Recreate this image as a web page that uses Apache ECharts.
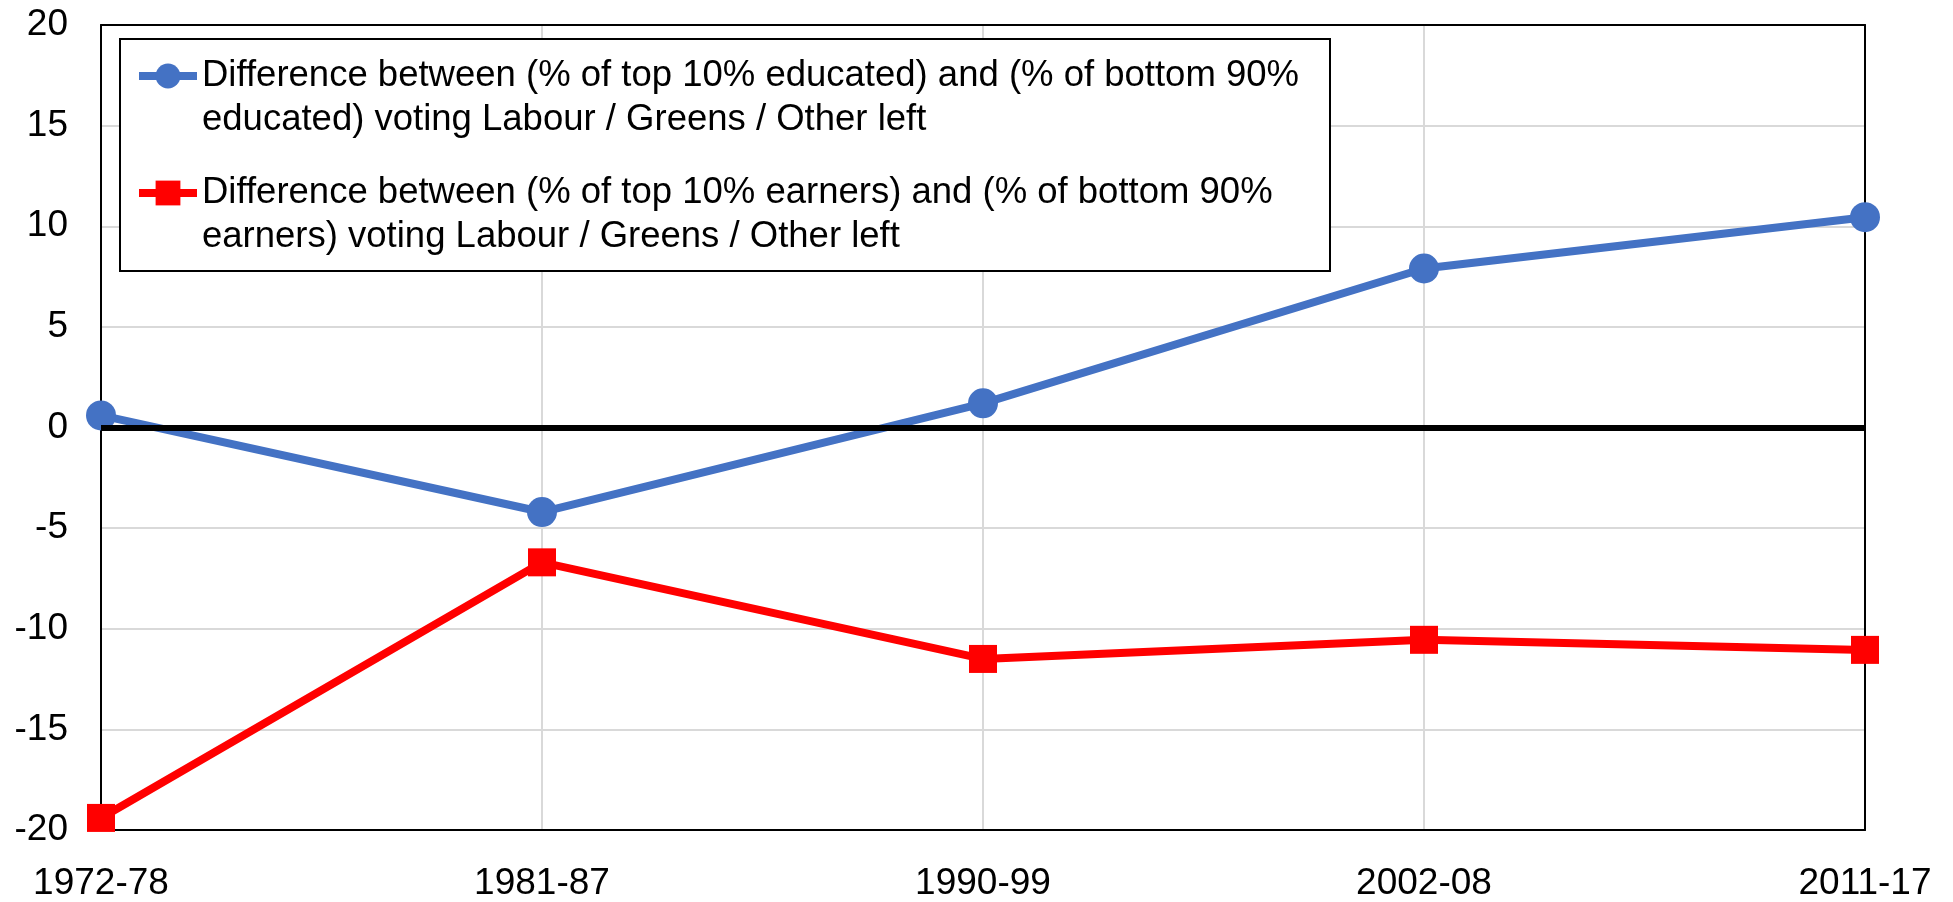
<!DOCTYPE html>
<html>
<head>
<meta charset="utf-8">
<title>Labour / Greens / Other left vote</title>
<script src="https://cdn.jsdelivr.net/npm/echarts@6/dist/echarts.min.js"></script>
<style>
	html, body { margin: 0; padding: 0; background: #fff; }
	#main { width: 1953px; height: 902px; }
</style>
</head>
<body>
<div id="main"></div>
<script>
var periods = [ '1972-78', '1981-87', '1990-99', '2002-08', '2011-17' ];
var educatedGap = [ 0.6, -4.2, 1.2, 7.9, 10.45 ];
var earnersGap = [ -19.4, -6.7, -11.5, -10.55, -11.05 ];
var yTicks = { min : -20, max : 20, step : 5 };

var educatedName = 'Difference between (% of top 10% educated) and (% of bottom 90%\neducated) voting Labour / Greens / Other left';
var earnersName = 'Difference between (% of top 10% earners) and (% of bottom 90%\nearners) voting Labour / Greens / Other left';

var fontFamily = "'Liberation Sans', Arial, sans-serif";
var gridColor = '#d9d9d9';

document.addEventListener('DOMContentLoaded', function() {
	drawChart();
});

// one legend per series; a blank first line keeps the icon level with the first text line
function legendItem(name, top) {
	return {
		data : [ name ],
		orient : 'vertical',
		left : 135,
		top : top,
		padding : 0,
		itemWidth : 58,
		itemHeight : 31,
		selectedMode : false,
		lineStyle : { width : 8 },
		formatter : function(n) {
			return ' \n' + n;
		},
		textStyle : {
			fontFamily : fontFamily,
			fontSize : 36.5,
			color : '#000',
			lineHeight : 44
		}
	};
}

function frameAxis(pos) {
	return {
		position : pos,
		axisLine : {
			show : true,
			onZero : false,
			lineStyle : { color : '#000', width : 2 }
		},
		axisTick : { show : false },
		axisLabel : { show : false },
		splitLine : { show : false }
	};
}

function drawChart() {
	var topAxis = frameAxis('top');
	topAxis.type = 'category';
	topAxis.data = periods;
	topAxis.boundaryGap = false;
	var rightAxis = frameAxis('right');
	rightAxis.type = 'value';
	rightAxis.min = yTicks.min;
	rightAxis.max = yTicks.max;
	rightAxis.interval = yTicks.step;

	var option = {
		animation : false,
		textStyle : {
			fontFamily : fontFamily
		},
		grid : {
			left : 101,
			right : 88,
			top : 25,
			bottom : 71
		},
		graphic : [ {
			type : 'rect',
			left : 119,
			top : 38,
			z : 1,
			shape : { width : 1210, height : 232 },
			style : { fill : '#fff', stroke : '#000', lineWidth : 2 }
		} ],
		legend : [ legendItem(educatedName, 10), legendItem(earnersName, 127) ],
		xAxis : [ {
			type : 'category',
			data : periods,
			boundaryGap : false,
			axisLine : {
				onZero : false,
				lineStyle : { color : '#000', width : 2 }
			},
			axisTick : { show : false },
			axisLabel : {
				color : '#000',
				fontSize : 37,
				margin : 35,
				fontFamily : fontFamily
			},
			splitLine : {
				show : true,
				lineStyle : { color : gridColor, width : 2 }
			}
		}, topAxis ],
		yAxis : [ {
			type : 'value',
			min : yTicks.min,
			max : yTicks.max,
			interval : yTicks.step,
			axisLine : {
				show : true,
				lineStyle : { color : '#000', width : 2 }
			},
			axisTick : { show : false },
			axisLabel : {
				color : '#000',
				fontSize : 37,
				margin : 33,
				fontFamily : fontFamily
			},
			splitLine : {
				lineStyle : { color : gridColor, width : 2 }
			}
		}, rightAxis ],
		series : [ {
			name : educatedName,
			type : 'line',
			data : educatedGap,
			z : 4,
			symbol : 'circle',
			symbolSize : 30,
			color : '#4472c4',
			lineStyle : { width : 8, color : '#4472c4' },
			itemStyle : { color : '#4472c4' }
		}, {
			name : earnersName,
			type : 'line',
			data : earnersGap,
			z : 3,
			symbol : 'rect',
			symbolSize : 28,
			color : '#ff0000',
			lineStyle : { width : 8, color : '#ff0000' },
			itemStyle : { color : '#ff0000' },
			markLine : {
				silent : true,
				symbol : 'none',
				label : { show : false },
				lineStyle : { color : '#000', width : 6, type : 'solid' },
				data : [ { yAxis : 0 } ]
			}
		} ]
	};
	var myChart = echarts.init(document.getElementById('main'));
	myChart.setOption(option);
}
</script>
</body>
</html>
